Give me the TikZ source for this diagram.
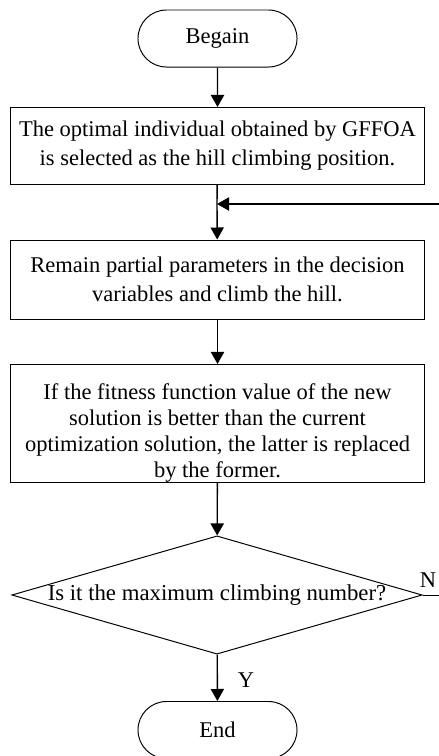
\documentclass[tikz,border=0pt]{standalone}
\usepackage{fontspec}
\setmainfont{Liberation Serif}
\usetikzlibrary{shapes.misc,shapes.geometric,arrows.meta}
\tikzset{
    flow-line/.style = {draw=black, line width=1pt, -{Triangle[length=0.3cm,width=0.33cm]}},
    terminal-box/.style = {draw=black, line width=0.7pt, rounded rectangle, minimum width=3.975cm, minimum height=1.425cm, inner sep=0pt, font=\fontsize{16}{19}\selectfont},
    step-box/.style = {draw=black, line width=0.7pt, rectangle, minimum width=10.325cm, inner sep=0pt, align=center, font=\fontsize{16}{19}\selectfont},
    decision-box/.style = {draw=black, line width=0.7pt, diamond, aspect=3.47, minimum width=10.25cm, minimum height=2.95cm, inner sep=0pt, font=\fontsize{16.2}{19}\selectfont},
    branch-label/.style = {font=\fontsize{16}{19}\selectfont},
}
\begin{document}
\begin{tikzpicture}[x=0.025cm, y=-0.025cm]
\useasboundingbox (0,0) rectangle (439,756);
\node [terminal-box] (begin) at (217.5,38.5) {Begain};
\node [step-box, minimum height=1.925cm, font=\fontsize{16}{20.6}\selectfont] (select) at (217.5,146) {The optimal individual obtained by GFFOA\\is selected as the hill climbing position.};
\node [step-box, minimum height=1.975cm, font=\fontsize{16}{21}\selectfont] (climb) at (217.5,279.5) {Remain partial parameters in the decision\\variables and climb the hill.};
\node [step-box, minimum height=2.925cm, font=\fontsize{16}{18.5}\selectfont] (replace) at (217.5,423.5) {\rule{0pt}{25pt}If the fitness function value of the new\\solution is better than the current\\optimization solution, the latter is replaced\\by the former.};
\node [decision-box] (maxnum) at (217,595) {Is it the maximum climbing number?};
\node [terminal-box] (end) at (217.5,730) {End};
\node [branch-label] (no) at (428,580) {N};
\node [branch-label] (yes) at (246,680) {Y};
\coordinate (join) at (217,204);
\coordinate (loop-in) at (439,204);
\coordinate (loop-out) at (439,595);
\draw [flow-line] (begin) -- (select);
\draw [line width=1pt] (select) -- (join);
\draw [flow-line] (join) -- (climb);
\draw [flow-line] (loop-in) -- (join);
\draw [flow-line] (climb) -- (replace);
\draw [flow-line] (replace) -- (maxnum);
\draw [flow-line] (maxnum) -- (end);
\draw [line width=0.7pt] (maxnum.east) -- (loop-out);
\end{tikzpicture}
\end{document}
